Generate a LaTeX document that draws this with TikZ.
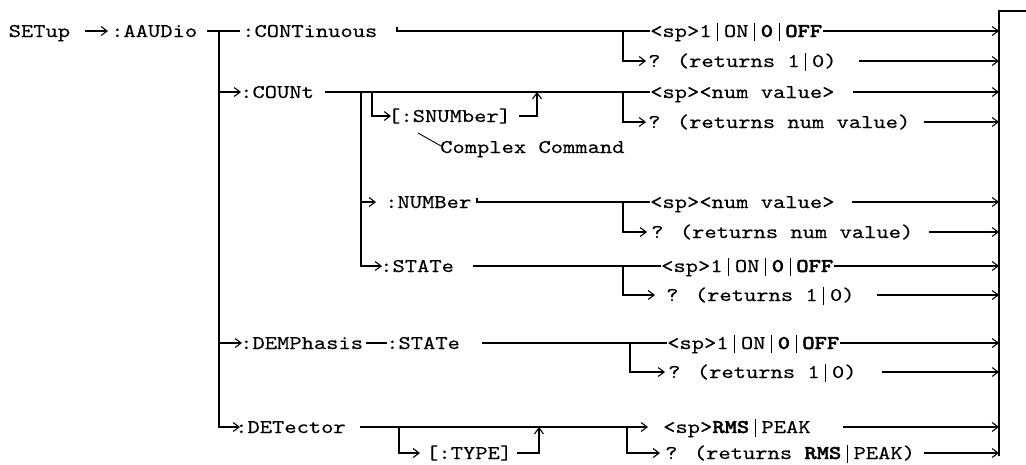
\documentclass[tikz,border=0pt]{standalone}
\usepackage{fontspec}
\newfontfamily\cour{lmmono10-regular.otf}[BoldFont=lmmonolt10-bold.otf, FakeStretch=1.2, UprightFeatures={FakeBold=0.25}, BoldFeatures={FakeBold=1.8}]
\newcommand\vbar{\makebox[12.285pt]{\rule[-4pt]{0.9pt}{18pt}}}
\usetikzlibrary{arrows.meta}
\begin{document}
\begin{tikzpicture}[x=1pt,y=-1pt,
  txt/.style={anchor=west,inner sep=0pt,text height=12pt,text depth=0pt,font=\cour\fontsize{19.5}{23}\selectfont},
  ln/.style={line width=1.2pt},
  thinln/.style={line width=0.9pt},
  arr/.style={line width=1.2pt,-{Straight Barb[length=6pt,width=9pt,line width=1.1pt]}},
]
\useasboundingbox (0,0) rectangle (1026,464);
% right-hand bar
\coordinate (barT) at (999,11);
\coordinate (barB) at (999,456);
\coordinate (barR) at (1026,11);
\draw[ln] (barR) -- (barT) -- (barB);

% root
\node[txt] (setup) at (8.5,31) {SETup};
\node[txt] (aaudio) at (111,31) {:AAUDio};
\draw[arr] ([xshift=15pt]setup.east) -- ([xshift=-3pt]aaudio.west);
\node[txt] (cont) at (242,31) {:CONTinuous};
\draw[ln] ([xshift=10pt]aaudio.east) -- ([xshift=-2pt]cont.west);

% main spine
\coordinate (m0) at (219,31);
\coordinate (m1) at (219,92);
\coordinate (m4) at (219,343);
\node[txt] (det) at (235,427) {:DETector};
\draw[arr] (m0) |- ([xshift=5pt]det.west);

% CONTinuous
\coordinate (tk1) at (397,31);
\coordinate (tk1u) at (397,27);
\node[txt] (o1a) at (650,31) {<sp>1\vbar ON\vbar\textbf{0}\vbar\textbf{OFF}};
\node[txt] (o1b) at (648,61) {? (returns 1\vbar 0)};
\coordinate (j1) at (623,31);
\draw[ln] (tk1u) -- (tk1) -- (o1a.west);
\draw[arr] (j1) |- ([xshift=-2pt]o1b.west);
\draw[arr] ([xshift=1pt]o1a.east) -- (o1a.east -| barT);
\draw[arr] ([xshift=22pt]o1b.east) -- (o1b.east -| barT);

% COUNt
\node[txt] (count) at (240,92) {:COUNt};
\draw[arr] (m1) -- ([xshift=1pt]count.west);
\node[txt] (o2a) at (650,92) {<sp><num value>};
\node[txt] (o2b) at (648,122) {? (returns num value)};
\draw[ln] ([xshift=11pt]count.east) -- (o2a.west);
\coordinate (j2) at (623,92);
\draw[arr] (j2) |- ([xshift=-2pt]o2b.west);
\draw[arr] ([xshift=18pt]o2a.east) -- (o2a.east -| barT);
\draw[arr] ([xshift=14pt]o2b.east) -- (o2b.east -| barT);

% [:SNUMber]
\coordinate (k0) at (372,92);
\coordinate (k1) at (537,92);
\node[txt] (snum) at (388,116) {[:SNUMber]};
\draw[arr] (k0) |- ([xshift=3pt]snum.west);
\draw[arr] ([xshift=8pt]snum.east) -| (k1);
\node[txt] (cplx) at (440,147) {Complex Command};
\draw[thinln] ([shift={(30,17)}]snum.west) -- ([shift={(1,-1)}]cplx.west);

% COUNt sub-branches
\coordinate (s0) at (361,92);
\coordinate (s1) at (361,202);
\node[txt] (numb) at (385,202) {:NUMBer};
\node[txt] (state1) at (380,266) {:STATe};
\draw[arr] (s0) |- ([xshift=2pt]state1.west);
\draw[arr] (s1) -- ([xshift=-9pt]numb.west);

% :NUMBer
\coordinate (tk3) at (477,202);
\coordinate (tk3u) at (477,198);
\node[txt] (o3a) at (650,202) {<sp><num value>};
\node[txt] (o3b) at (651,232) {? (returns num value)};
\coordinate (j3) at (623,202);
\draw[ln] (tk3u) -- (tk3) -- (o3a.west);
\draw[arr] (j3) |- ([xshift=-4pt]o3b.west);
\draw[arr] ([xshift=17pt]o3a.east) -- (o3a.east -| barT);
\draw[arr] ([xshift=16pt]o3b.east) -- (o3b.east -| barT);

% :COUNt:STATe
\node[txt] (o4a) at (661,266) {<sp>1\vbar ON\vbar\textbf{0}\vbar\textbf{OFF}};
\node[txt] (o4b) at (666,295) {? (returns 1\vbar 0)};
\draw[ln] ([xshift=19pt]state1.east) -- (o4a.west);
\coordinate (j4) at (623,266);
\draw[arr] (j4) |- ([xshift=-11pt]o4b.west);
\draw[arr] ([xshift=1pt]o4a.east) -- (o4a.east -| barT);
\draw[arr] ([xshift=22pt]o4b.east) -- (o4b.east -| barT);

% DEMPhasis
\node[txt] (demp) at (240,343) {:DEMPhasis};
\draw[arr] (m4) -- ([xshift=2pt]demp.west);
\node[txt] (state2) at (386,343) {:STATe};
\draw[ln] ([xshift=3pt]demp.east) -- ([xshift=1pt]state2.west);
\node[txt] (o5a) at (667,343) {<sp>1\vbar ON\vbar\textbf{0}\vbar\textbf{OFF}};
\node[txt] (o5b) at (668,372) {? (returns 1\vbar 0)};
\draw[ln] ([xshift=22pt]state2.east) -- (o5a.west);
\coordinate (j5) at (630,343);
\draw[arr] (j5) |- ([xshift=-3pt]o5b.west);
\draw[arr] ([xshift=1pt]o5a.east) -- (o5a.east -| barT);
\draw[arr] ([xshift=25pt]o5b.east) -- (o5b.east -| barT);

% DETector
\node[txt] (o6a) at (663,427) {<sp>\textbf{RMS}\vbar PEAK};
\node[txt] (o6b) at (665,453) {? (returns \textbf{RMS}\vbar PEAK)};
\draw[arr] ([xshift=14pt]det.east) -- ([xshift=-15pt]o6a.west);
\coordinate (d0) at (399,427);
\coordinate (d1) at (539,427);
\node[txt] (type) at (426,453) {[:TYPE]};
\draw[arr] (d0) |- ([xshift=-6pt]type.west);
\draw[arr] ([xshift=5pt]type.east) -| (d1);
\coordinate (j6) at (627,427);
\draw[arr] (j6) |- ([xshift=-5pt]o6b.west);
\draw[arr] ([xshift=32pt]o6a.east) -- (o6a.east -| barT);
\draw[arr] ([xshift=9pt]o6b.east) -- (o6b.east -| barT);
\end{tikzpicture}
\end{document}
